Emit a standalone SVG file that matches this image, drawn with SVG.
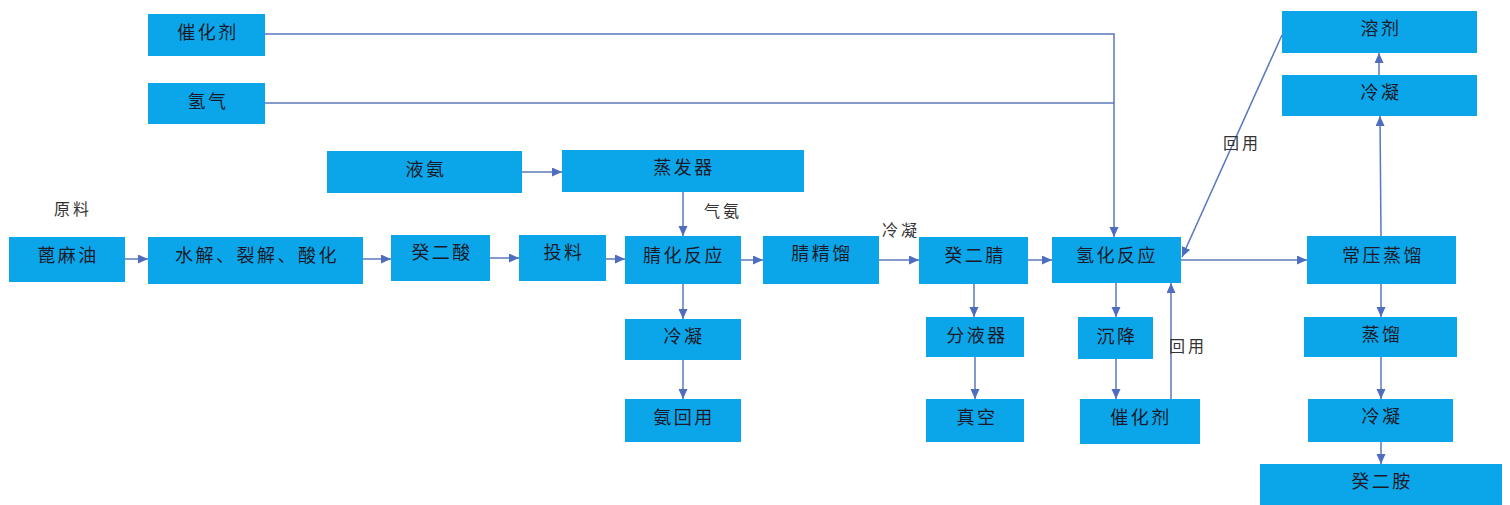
<svg xmlns="http://www.w3.org/2000/svg" width="1510" height="505" viewBox="0 0 1510 505">
<defs>
<style>
.b{fill:#0AA6E9;}
.t{font-family:"Noto Sans CJK SC","Noto Sans",sans-serif;font-size:18px;fill:#1a1a2a;text-anchor:middle;dominant-baseline:central;letter-spacing:2.5px;}
.l{font-family:"Noto Sans CJK SC","Noto Sans",sans-serif;font-size:16px;fill:#333;text-anchor:middle;dominant-baseline:central;letter-spacing:3px;}
.c{fill:none;stroke:#5B78BD;stroke-width:1.5;}
.a{marker-end:url(#ah);}
</style>
<marker id="ah" markerUnits="userSpaceOnUse" markerWidth="11" markerHeight="10" refX="10" refY="4.5" orient="auto">
<path d="M0,0 L10,4.5 L0,9 z" fill="#4F6DBE"/>
</marker>
</defs>
<rect width="1510" height="505" fill="#fff"/>
<g id="connectors">
<line class="c a" x1="125" y1="259" x2="148" y2="259"/>
<line class="c a" x1="363" y1="259" x2="391" y2="259"/>
<line class="c a" x1="490" y1="258" x2="519" y2="258"/>
<line class="c a" x1="606" y1="259" x2="625" y2="259"/>
<line class="c a" x1="741" y1="260" x2="763" y2="260"/>
<line class="c a" x1="879" y1="260" x2="919" y2="260"/>
<line class="c a" x1="1028" y1="260" x2="1052" y2="260"/>
<line class="c a" x1="1181" y1="260" x2="1307" y2="260"/>
<line class="c a" x1="522" y1="172" x2="562" y2="172"/>
<line class="c a" x1="683" y1="192" x2="683" y2="236"/>
<line class="c a" x1="683" y1="284" x2="683" y2="319"/>
<line class="c a" x1="683" y1="360" x2="683" y2="399"/>
<line class="c a" x1="974" y1="284" x2="974" y2="317"/>
<line class="c a" x1="975" y1="357" x2="975" y2="399"/>
<line class="c a" x1="1116" y1="283" x2="1116" y2="317"/>
<line class="c a" x1="1116" y1="359" x2="1116" y2="399"/>
<line class="c a" x1="1171" y1="399" x2="1171" y2="283"/>
<polyline class="c a" points="265,34 1114,34 1114,237"/>
<line class="c" x1="265" y1="103" x2="1114" y2="103"/>
<line class="c a" x1="1282" y1="35" x2="1182" y2="257"/>
<line class="c a" x1="1381" y1="236" x2="1380" y2="116"/>
<line class="c a" x1="1379" y1="75" x2="1379" y2="53"/>
<line class="c a" x1="1381" y1="284" x2="1381" y2="317"/>
<line class="c a" x1="1381" y1="357" x2="1381" y2="399"/>
<line class="c a" x1="1381" y1="442" x2="1381" y2="464"/>
</g>
<g id="n_cat_top"><rect class="b" x="148" y="14" width="117" height="42"/><text class="t" x="208" y="31">催化剂</text></g>
<g id="n_h2"><rect class="b" x="148" y="83" width="117" height="41"/><text class="t" x="208" y="100">氢气</text></g>
<g id="n_nh3l"><rect class="b" x="327" y="151" width="195" height="42"/><text class="t" x="426" y="168">液氨</text></g>
<g id="n_evap"><rect class="b" x="562" y="150" width="242" height="42"/><text class="t" x="684" y="166">蒸发器</text></g>
<g id="n_castor"><rect class="b" x="9" y="237" width="116" height="45"/><text class="t" x="68" y="254">蓖麻油</text></g>
<g id="n_hydrolysis"><rect class="b" x="148" y="237" width="215" height="47"/><text class="t" x="257" y="254">水解、裂解、酸化</text></g>
<g id="n_sebacic"><rect class="b" x="391" y="235" width="99" height="46"/><text class="t" x="442" y="251">癸二酸</text></g>
<g id="n_feed"><rect class="b" x="519" y="235" width="87" height="46"/><text class="t" x="564" y="251">投料</text></g>
<g id="n_nitrile"><rect class="b" x="625" y="236" width="116" height="48"/><text class="t" x="684" y="254">腈化反应</text></g>
<g id="n_nitdist"><rect class="b" x="763" y="236" width="116" height="48"/><text class="t" x="822" y="252">腈精馏</text></g>
<g id="n_dinitrile"><rect class="b" x="919" y="237" width="109" height="47"/><text class="t" x="975" y="254">癸二腈</text></g>
<g id="n_hydrogenation"><rect class="b" x="1052" y="237" width="129" height="46"/><text class="t" x="1117" y="254">氢化反应</text></g>
<g id="n_atmdist"><rect class="b" x="1307" y="236" width="149" height="48"/><text class="t" x="1383" y="254">常压蒸馏</text></g>
<g id="n_cond1"><rect class="b" x="625" y="319" width="116" height="41"/><text class="t" x="684" y="335">冷凝</text></g>
<g id="n_nh3rec"><rect class="b" x="625" y="399" width="116" height="43"/><text class="t" x="684" y="416">氨回用</text></g>
<g id="n_sep"><rect class="b" x="926" y="317" width="98" height="40"/><text class="t" x="977" y="334">分液器</text></g>
<g id="n_vac"><rect class="b" x="926" y="399" width="98" height="43"/><text class="t" x="977" y="416">真空</text></g>
<g id="n_settle"><rect class="b" x="1078" y="317" width="75" height="42"/><text class="t" x="1117" y="335">沉降</text></g>
<g id="n_cat_bot"><rect class="b" x="1080" y="399" width="120" height="45"/><text class="t" x="1141" y="416">催化剂</text></g>
<g id="n_solvent"><rect class="b" x="1282" y="11" width="195" height="42"/><text class="t" x="1381" y="27">溶剂</text></g>
<g id="n_cond_top"><rect class="b" x="1282" y="75" width="195" height="41"/><text class="t" x="1381" y="91">冷凝</text></g>
<g id="n_dist"><rect class="b" x="1304" y="317" width="153" height="40"/><text class="t" x="1382" y="333">蒸馏</text></g>
<g id="n_cond_br"><rect class="b" x="1308" y="399" width="145" height="43"/><text class="t" x="1382" y="415">冷凝</text></g>
<g id="n_diamine"><rect class="b" x="1260" y="464" width="242" height="41"/><text class="t" x="1382" y="480">癸二胺</text></g>
<g id="labels">
<text class="l" x="73" y="208">原料</text>
<text class="l" x="723" y="210">气氨</text>
<text class="l" x="901" y="229">冷凝</text>
<text class="l" x="1242" y="142">回用</text>
<text class="l" x="1188" y="345">回用</text>
</g>
</svg>
